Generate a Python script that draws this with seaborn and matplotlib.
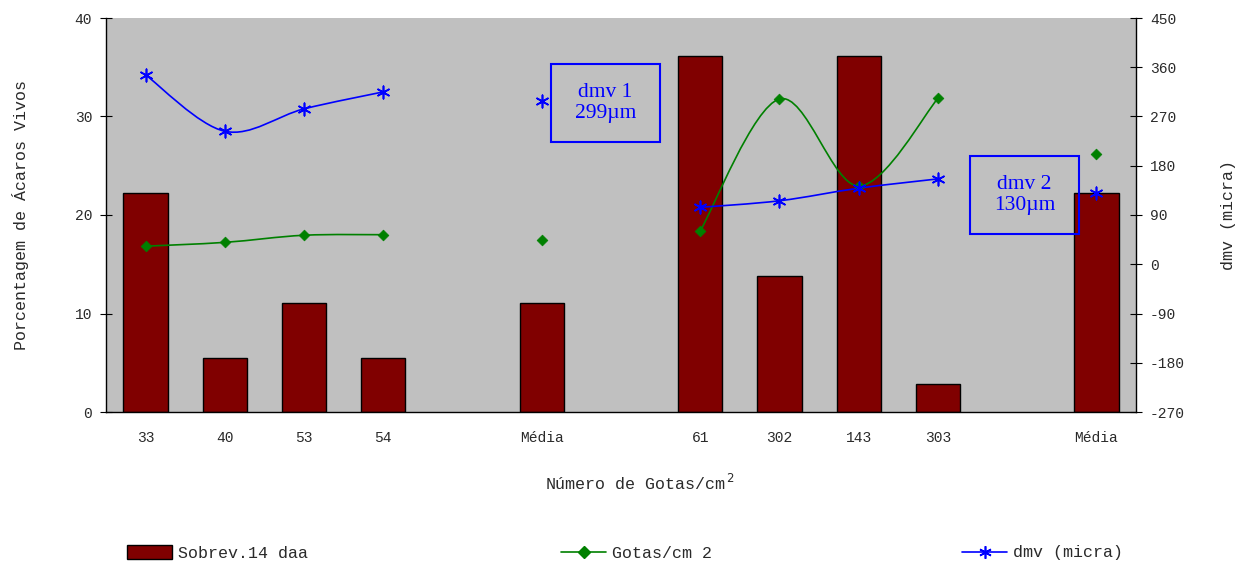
import numpy as np
import pandas as pd
import matplotlib
matplotlib.use("Agg")
import matplotlib.pyplot as plt
import seaborn as sns
from matplotlib.path import Path
from matplotlib.patches import PathPatch, Rectangle, Patch
from matplotlib.lines import Line2D

# ---- data ----
slots = ["33", "40", "53", "54", "", "Média", "", "61", "302", "143", "303", "", "Média"]
sobrev = [22.2, 5.5, 11.1, 5.5, np.nan, 11.1, np.nan, 36.1, 13.8, 36.1, 2.8, np.nan, 22.2]
gotas = [33, 40, 53, 54, np.nan, 45, np.nan, 61, 302, 143, 303, np.nan, 202]
dmv = [346, 243, 284, 315, np.nan, 299, np.nan, 104, 116, 139, 156, np.nan, 130]
left_ticks = [0, 10, 20, 30, 40]
right_ticks = [-270, -180, -90, 0, 90, 180, 270, 360, 450]

pos = np.arange(len(slots))
df = pd.DataFrame({"pos": pos, "sobrev": sobrev, "gotas": gotas, "dmv": dmv})

sns.set_theme(style="white")
MONO = ["Liberation Mono", "DejaVu Sans Mono"]
plt.rcParams["font.family"] = MONO

BG = "#C0C0C0"
BAR = "#800000"
GREEN = "#008000"
BLUE = "#0000FF"
TXT = "#2a2a2a"

fig = plt.figure(figsize=(12.46, 5.65), dpi=100)
L, R, T, B = 106, 1136, 18, 412
W, H = 1246, 565
ax = fig.add_axes([L / W, 1 - B / H, (R - L) / W, (B - T) / H])
ax.set_facecolor(BG)

bars = df.dropna(subset=["sobrev"])
sns.barplot(data=bars, x="pos", y="sobrev", native_scale=True, color=BAR,
            edgecolor="black", linewidth=1.0, width=0.56, errorbar=None,
            saturation=1, ax=ax)
ax.set_xlim(-0.5, len(slots) - 0.5)
ax.set_ylim(0, 40)
ax.set_yticks(left_ticks)
ax.set_yticklabels([str(v) for v in left_ticks], fontsize=10.5, color=TXT)
ax.set_xticks(pos)
ax.set_xticklabels(slots, fontsize=10.5, color=TXT)
ax.tick_params(axis="x", which="major", length=0, pad=14)
ax.set_xticks(np.arange(-0.5, len(slots), 1.0), minor=True)
ax.tick_params(axis="x", which="minor", length=7, direction="out", color="black", width=0.8)
ax.tick_params(axis="y", length=8, direction="inout", color="black", width=0.8, pad=6)
ax.set_xlabel("")
ax.set_ylabel("Porcentagem de Ácaros Vivos", fontsize=12, color=TXT, labelpad=33)
for s in ["left", "bottom"]:
    ax.spines[s].set_color("black")
    ax.spines[s].set_linewidth(1.0)
ax.spines["top"].set_visible(False)
ax.spines["right"].set_visible(False)

ax2 = ax.twinx()
ax2.set_ylim(-270, 450)
ax2.set_yticks(right_ticks)
ax2.set_yticklabels([str(v) for v in right_ticks], fontsize=10.5, color=TXT)
ax2.tick_params(axis="y", length=8, direction="inout", color="black", width=0.8, pad=6)
ax2.set_ylabel("dmv (micra)", fontsize=12, color=TXT, labelpad=26)
ax2.spines["right"].set_color("black")
ax2.spines["right"].set_linewidth(1.0)
for s in ["top", "left", "bottom"]:
    ax2.spines[s].set_visible(False)


def segments(values):
    segs, cur = [], []
    for i, v in enumerate(values):
        if np.isnan(v):
            if cur:
                segs.append(cur)
            cur = []
        else:
            cur.append(i)
    if cur:
        segs.append(cur)
    return segs


def smooth_path(xs, ys):
    pts = np.column_stack([xs, ys]).astype(float)
    verts = [pts[0]]
    codes = [Path.MOVETO]
    n = len(pts)
    for i in range(n - 1):
        p0 = pts[i - 1] if i > 0 else pts[i]
        p1, p2 = pts[i], pts[i + 1]
        p3 = pts[i + 2] if i + 2 < n else pts[i + 1]
        c1 = p1 + (p2 - p0) / 6.0
        c2 = p2 - (p3 - p1) / 6.0
        verts += [c1, c2, p2]
        codes += [Path.CURVE4] * 3
    return Path(verts, codes)


for col, color in [("gotas", GREEN), ("dmv", BLUE)]:
    vals = np.array(df[col], dtype=float)
    for seg in segments(vals):
        if len(seg) > 1:
            p = smooth_path(pos[seg], vals[seg])
            ax2.add_patch(PathPatch(p, facecolor="none", edgecolor=color, lw=1.2, zorder=3))

pts = df.dropna(subset=["gotas"])
sns.scatterplot(data=pts, x="pos", y="gotas", marker="D", s=30, color=GREEN,
                edgecolor=GREEN, linewidth=0.5, ax=ax2, zorder=4, legend=False)
pts = df.dropna(subset=["dmv"])
sns.scatterplot(data=pts, x="pos", y="dmv", marker=(6, 2, 0), s=80, color=BLUE,
                edgecolor=BLUE, linewidth=1.2, ax=ax2, zorder=4, legend=False)
ax2.set_xlim(-0.5, len(slots) - 0.5)
ax2.set_xlabel("")

# text boxes
for (bx, by, txt) in [(551, 64, "dmv 1\n299µm"), (970, 156, "dmv 2\n130µm")]:
    bw, bh = 109, 78
    rect = Rectangle(((bx - L) / (R - L), (B - by - bh) / (B - T)), bw / (R - L), bh / (B - T),
                     transform=ax2.transAxes, facecolor="none", edgecolor=BLUE, lw=1.5, zorder=6)
    ax2.add_patch(rect)
    ax2.text((bx + bw / 2 - L) / (R - L), (B - by - bh / 2) / (B - T), txt,
             transform=ax2.transAxes, ha="center", va="center", color=BLUE,
             fontsize=15.5, family=["Liberation Serif", "DejaVu Serif"], linespacing=1.2, zorder=7)

# x label
fig.text(640 / W, 1 - 483 / H, "Número de Gotas/cm$^{\\,2}$", ha="center", va="center",
         fontsize=12, color=TXT)

# legends
lg_kw = dict(frameon=False, loc="center left", fontsize=12, borderpad=0, borderaxespad=0,
             handletextpad=0.35, labelcolor=TXT)
l1 = fig.legend(handles=[Patch(facecolor=BAR, edgecolor="black", lw=1.0)], labels=["Sobrev.14 daa"],
                bbox_to_anchor=(127 / W, 1 - 553 / H), handlelength=2.7, handleheight=0.85, **lg_kw)
l2 = fig.legend(handles=[Line2D([], [], color=GREEN, lw=1.2, marker="D", ms=6)], labels=["Gotas/cm 2"],
                bbox_to_anchor=(561 / W, 1 - 553 / H), handlelength=2.7, **lg_kw)
l3 = fig.legend(handles=[Line2D([], [], color=BLUE, lw=1.2, marker=(6, 2, 0), ms=9, mew=1.2)],
                labels=["dmv (micra)"], bbox_to_anchor=(962 / W, 1 - 553 / H), handlelength=2.7, **lg_kw)

fig.savefig("out.png", dpi=100, facecolor="white")
